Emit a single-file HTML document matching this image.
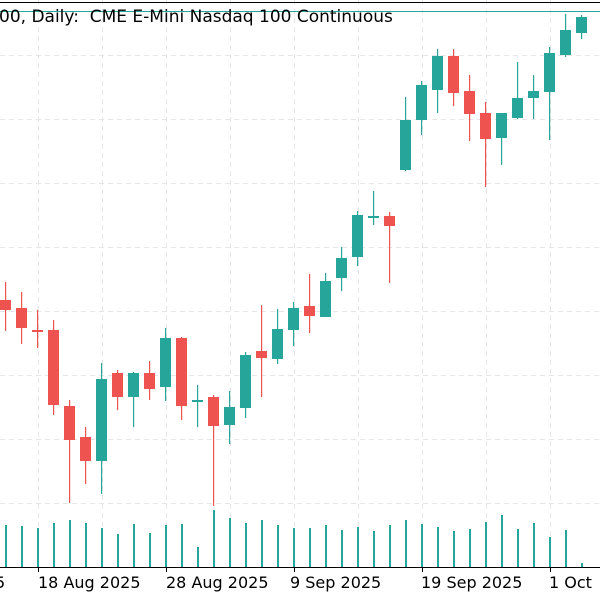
<!DOCTYPE html>
<html><head><style>body{margin:0;background:#fff}svg{display:block}text{font-family:"DejaVu Sans","Liberation Sans",sans-serif;white-space:pre}</style></head>
<body>
<svg width="600" height="600" viewBox="0 0 600 600" xmlns="http://www.w3.org/2000/svg">
<g stroke="#e6e6e6" stroke-width="1" stroke-dasharray="5,4">
<line x1="0" y1="55.5" x2="600" y2="55.5"/><line x1="0" y1="119.5" x2="600" y2="119.5"/><line x1="0" y1="183.5" x2="600" y2="183.5"/><line x1="0" y1="247.5" x2="600" y2="247.5"/><line x1="0" y1="311.5" x2="600" y2="311.5"/><line x1="0" y1="375.5" x2="600" y2="375.5"/><line x1="0" y1="439.5" x2="600" y2="439.5"/><line x1="0" y1="503.5" x2="600" y2="503.5"/>
<line x1="38.5" y1="0" x2="38.5" y2="567"/><line x1="102.5" y1="0" x2="102.5" y2="567"/><line x1="166.5" y1="0" x2="166.5" y2="567"/><line x1="230.5" y1="0" x2="230.5" y2="567"/><line x1="294.5" y1="0" x2="294.5" y2="567"/><line x1="358.5" y1="0" x2="358.5" y2="567"/><line x1="422.5" y1="0" x2="422.5" y2="567"/><line x1="486.5" y1="0" x2="486.5" y2="567"/><line x1="550.5" y1="0" x2="550.5" y2="567"/>
</g>
<line x1="0" y1="2.5" x2="600" y2="2.5" stroke="#000" stroke-width="1"/>
<line x1="0" y1="11.5" x2="600" y2="11.5" stroke="#26a69a" stroke-width="1"/>
<text x="-1" y="22" font-size="17" fill="#000" xml:space="preserve">00, Daily:  CME E-Mini Nasdaq 100 Continuous</text>
<g fill="#26a69a">
<rect x="5" y="525" width="2" height="42"/><rect x="21" y="526" width="2" height="41"/><rect x="37" y="528" width="2" height="39"/><rect x="53" y="523" width="2" height="44"/><rect x="69" y="520" width="2" height="47"/><rect x="85" y="523" width="2" height="44"/><rect x="101" y="528" width="2" height="39"/><rect x="117" y="534" width="2" height="33"/><rect x="133" y="524" width="2" height="43"/><rect x="149" y="533" width="2" height="34"/><rect x="165" y="525" width="2" height="42"/><rect x="181" y="524" width="2" height="43"/><rect x="197" y="547" width="2" height="20"/><rect x="213" y="510" width="2" height="57"/><rect x="229" y="518" width="2" height="49"/><rect x="245" y="523" width="2" height="44"/><rect x="261" y="520" width="2" height="47"/><rect x="277" y="525" width="2" height="42"/><rect x="293" y="528" width="2" height="39"/><rect x="309" y="528" width="2" height="39"/><rect x="325" y="525" width="2" height="42"/><rect x="341" y="530" width="2" height="37"/><rect x="357" y="527" width="2" height="40"/><rect x="373" y="531" width="2" height="36"/><rect x="389" y="525" width="2" height="42"/><rect x="405" y="520" width="2" height="47"/><rect x="421" y="524" width="2" height="43"/><rect x="437" y="527" width="2" height="40"/><rect x="453" y="531" width="2" height="36"/><rect x="469" y="529" width="2" height="38"/><rect x="485" y="522" width="2" height="45"/><rect x="501" y="515" width="2" height="52"/><rect x="517" y="529" width="2" height="38"/><rect x="533" y="523" width="2" height="44"/><rect x="549" y="537" width="2" height="30"/><rect x="565" y="530" width="2" height="37"/><rect x="581" y="563" width="2" height="4"/>
</g>
<g fill="#ef5350">
<rect x="5" y="282" width="1.2" height="49"/><rect x="0" y="300" width="11" height="10"/>
<rect x="21" y="292" width="1.2" height="52"/><rect x="16" y="308" width="11" height="20"/>
<rect x="37" y="310" width="1.2" height="38"/><rect x="32" y="330" width="11" height="2"/>
<rect x="53" y="320" width="1.2" height="95"/><rect x="48" y="330" width="11" height="75"/>
<rect x="69" y="400" width="1.2" height="103"/><rect x="64" y="406" width="11" height="34"/>
<rect x="85" y="427" width="1.2" height="57"/><rect x="80" y="437" width="11" height="24"/>
<rect x="117" y="370" width="1.2" height="40"/><rect x="112" y="373" width="11" height="24"/>
<rect x="149" y="361" width="1.2" height="39"/><rect x="144" y="373" width="11" height="16"/>
<rect x="181" y="337" width="1.2" height="83"/><rect x="176" y="338" width="11" height="68"/>
<rect x="213" y="395" width="1.2" height="111"/><rect x="208" y="397" width="11" height="29"/>
<rect x="261" y="305" width="1.2" height="92"/><rect x="256" y="351" width="11" height="7"/>
<rect x="309" y="274" width="1.2" height="59"/><rect x="304" y="306" width="11" height="10"/>
<rect x="389" y="212" width="1.2" height="71"/><rect x="384" y="216" width="11" height="10"/>
<rect x="453" y="49" width="1.2" height="57"/><rect x="448" y="56" width="11" height="37"/>
<rect x="469" y="75" width="1.2" height="66"/><rect x="464" y="91" width="11" height="23"/>
<rect x="485" y="102" width="1.2" height="85"/><rect x="480" y="113" width="11" height="26"/>
</g>
<g fill="#26a69a">
<rect x="101" y="363" width="1.2" height="131"/><rect x="96" y="379" width="11" height="82"/>
<rect x="133" y="372" width="1.2" height="55"/><rect x="128" y="373" width="11" height="24"/>
<rect x="165" y="328" width="1.2" height="73"/><rect x="160" y="338" width="11" height="49"/>
<rect x="197" y="385" width="1.2" height="42"/><rect x="192" y="400" width="11" height="2"/>
<rect x="229" y="391" width="1.2" height="53"/><rect x="224" y="407" width="11" height="18"/>
<rect x="245" y="352" width="1.2" height="66"/><rect x="240" y="355" width="11" height="53"/>
<rect x="277" y="309" width="1.2" height="55"/><rect x="272" y="329" width="11" height="30"/>
<rect x="293" y="302" width="1.2" height="44"/><rect x="288" y="308" width="11" height="22"/>
<rect x="325" y="273" width="1.2" height="44"/><rect x="320" y="281" width="11" height="36"/>
<rect x="341" y="247" width="1.2" height="44"/><rect x="336" y="258" width="11" height="20"/>
<rect x="357" y="211" width="1.2" height="55"/><rect x="352" y="215" width="11" height="42"/>
<rect x="373" y="191" width="1.2" height="34"/><rect x="368" y="216" width="11" height="2"/>
<rect x="405" y="97" width="1.2" height="74"/><rect x="400" y="120" width="11" height="50"/>
<rect x="421" y="81" width="1.2" height="54"/><rect x="416" y="85" width="11" height="35"/>
<rect x="437" y="49" width="1.2" height="64"/><rect x="432" y="56" width="11" height="34"/>
<rect x="501" y="113" width="1.2" height="52"/><rect x="496" y="113" width="11" height="25"/>
<rect x="517" y="62" width="1.2" height="57"/><rect x="512" y="98" width="11" height="20"/>
<rect x="533" y="75" width="1.2" height="44"/><rect x="528" y="91" width="11" height="7"/>
<rect x="549" y="47" width="1.2" height="93"/><rect x="544" y="53" width="11" height="39"/>
<rect x="565" y="14" width="1.2" height="43"/><rect x="560" y="30" width="11" height="25"/>
<rect x="581" y="15" width="1.2" height="24"/><rect x="576" y="17" width="11" height="16"/>
</g>
<line x1="0" y1="567.5" x2="600" y2="567.5" stroke="#000" stroke-width="1"/>
<g stroke="#000" stroke-width="1">
<line x1="38.5" y1="567" x2="38.5" y2="572"/><line x1="166.5" y1="567" x2="166.5" y2="572"/><line x1="294.5" y1="567" x2="294.5" y2="572"/><line x1="422.5" y1="567" x2="422.5" y2="572"/><line x1="550.5" y1="567" x2="550.5" y2="572"/>
</g>
<g font-size="16" fill="#000">
<text x="-5" y="588">5</text>
<text x="38" y="588">18 Aug 2025</text>
<text x="166" y="588">28 Aug 2025</text>
<text x="290" y="588">9 Sep 2025</text>
<text x="421" y="588">19 Sep 2025</text>
<text x="549" y="588">1 Oct</text>
</g>
</svg>
</body></html>
